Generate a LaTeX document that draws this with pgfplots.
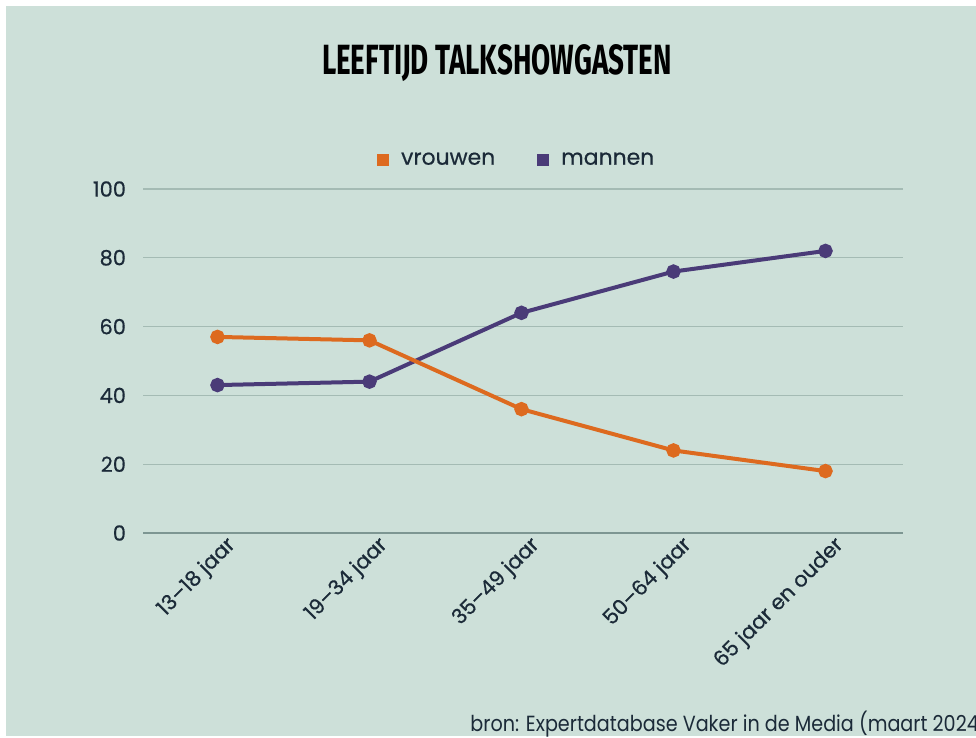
\documentclass[border=0pt]{standalone}
\usepackage{fontspec}
\setmainfont{Poppins}
\newfontfamily\titlefont{Fira Sans}
\newfontfamily\tickfont{Poppins}[FakeBold=0.5, Ligatures=TeX]
\usepackage{pgfplots}
\pgfplotsset{compat=1.18}
\usepackage{pgfplotstable}
\definecolor{bg}{HTML}{CDE0D9}
\definecolor{vr}{HTML}{DD6A1F}
\definecolor{mn}{HTML}{4A3B78}
\definecolor{gridc}{HTML}{A4BBB4}
\definecolor{zero}{HTML}{7D9692}
\definecolor{txt}{HTML}{1B2A38}

\pgfplotstableread{
x vrouwen mannen
0 57 43
1 56 44
2 36 64
3 24 76
4 18 82
}\data

\begin{document}
\begin{tikzpicture}
\useasboundingbox (0,0) rectangle (488bp,369bp);
\fill[white] (0,0) rectangle (488bp,369bp);
\fill[bg] (3bp,1bp) rectangle (488bp,366bp);
\begin{scope}
\clip (0,0) rectangle (488bp,369bp);
\node[anchor=base west, inner sep=0pt, text=txt, font=\fontsize{11}{12}\selectfont] at (235bp,3.5bp) {\scalebox{0.875}[1]{bron: Expertdatabase Vaker in de Media (maart 2024)}};
\end{scope}
\node[anchor=center, inner sep=0pt, text=black] at (248.5bp,337.5bp) {\resizebox{175bp}{15bp}{\titlefont\bfseries LEEFTIJD TALKSHOWGASTEN}};
\begin{axis}[
  at={(71.5bp,102.5bp)}, anchor=south west,
  scale only axis, width=380bp, height=172bp,
  xmin=-0.49, xmax=4.51, ymin=0, ymax=100,
  ytick={0,20,...,100}, xtick={0,...,4},
  xticklabels={13--18 jaar,19--34 jaar,35--49 jaar,50--64 jaar,65 jaar en ouder},
  axis line style={draw=none},
  major tick length=0pt,
  ymajorgrids, grid style={gridc, line width=0.6bp},
  extra y ticks={0}, extra y tick labels={},
  extra y tick style={grid style={zero, line width=0.9bp}},
  /pgf/number format/assume math mode=true,
  tick label style={font=\tickfont\fontsize{10.5}{12}\selectfont, text=txt},
  yticklabel style={xshift=-5bp},
  xticklabel style={rotate=45, anchor=east, xshift=5.5bp, yshift=-8.5bp},
  legend style={at={(0.493,1.084)}, anchor=center, draw=none, fill=none,
    font=\tickfont\fontsize{11}{12}\selectfont, text=txt,
    /tikz/every even column/.append style={column sep=19bp}},
  legend columns=2, reverse legend,
  legend image code/.code={\fill[#1, draw=none] (0bp,-3bp) rectangle (6bp,3bp); \path[draw=none, fill=none] (0bp,0bp) -- (10bp,0bp);},
]
\addplot[mn, line width=2bp, mark=*, mark size=2.6bp] table[x=x,y=mannen]{\data};
\addlegendentry{mannen}
\addplot[vr, line width=2bp, mark=*, mark size=2.6bp] table[x=x,y=vrouwen]{\data};
\addlegendentry{vrouwen}
\end{axis}
\end{tikzpicture}
\end{document}
